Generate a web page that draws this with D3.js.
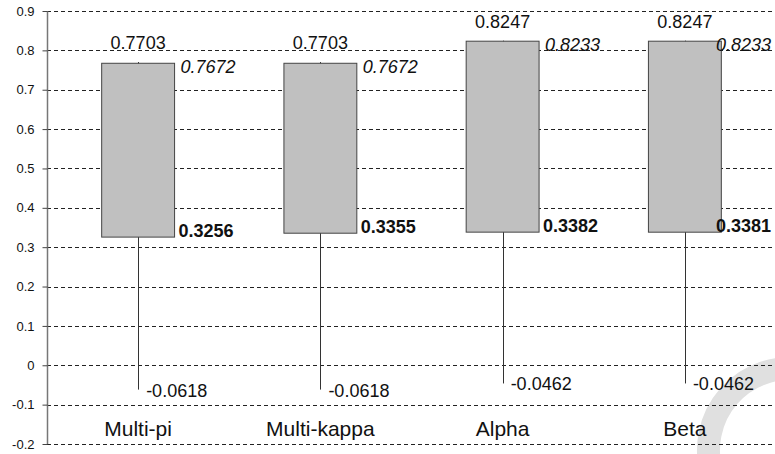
<!DOCTYPE html>
<html>
<head>
<meta charset="utf-8">
<script src="https://cdn.jsdelivr.net/npm/d3@7"></script>
<style>
  html, body { margin: 0; padding: 0; background: #fff; }
  svg { display: block; }
  text { font-family: "Liberation Sans", Arial, Helvetica, sans-serif; fill: #111; }
</style>
</head>
<body>
<script>
const categories = ["Multi-pi", "Multi-kappa", "Alpha", "Beta"];
const maxVals = [0.7703, 0.7703, 0.8247, 0.8247];
const q3Vals  = [0.7672, 0.7672, 0.8233, 0.8233];
const q1Vals  = [0.3256, 0.3355, 0.3382, 0.3381];
const minVals = [-0.0618, -0.0618, -0.0462, -0.0462];
const yTicks  = [-0.2, -0.1, 0, 0.1, 0.2, 0.3, 0.4, 0.5, 0.6, 0.7, 0.8, 0.9];

const W = 775, H = 454;
const svg = d3.select("body").append("svg").attr("width", W).attr("height", H);

const y = d3.scaleLinear().domain([-0.2, 0.9]).range([444, 11]);
const x = d3.scaleBand().domain(categories).range([47, 776]).padding(0);
const boxW = x.bandwidth() * 0.4;
const cx = c => x(c) + x.bandwidth() / 2;
const hy = s => s.replace(/\u2212/g, "-");
const f4 = d => hy(d3.format(".4f")(d));

// faint watermark ring (bottom right)
svg.append("path")
  .attr("transform", "translate(790,450)")
  .attr("d", d3.arc().innerRadius(70).outerRadius(93).startAngle(0.2).endAngle(-1.9)())
  .attr("fill", "#e0e0e0");

// gridlines
svg.append("g").selectAll("line").data(yTicks).join("line")
  .attr("x1", 47).attr("x2", W)
  .attr("y1", d => Math.round(y(d)) + 0.5).attr("y2", d => Math.round(y(d)) + 0.5)
  .attr("stroke", "#222").attr("stroke-width", 1).attr("stroke-dasharray", "4,3");

// y axis
const fmt = d => d === 0 ? "0" : hy(d3.format(".1f")(d));
const ax = svg.append("g").attr("transform", "translate(47.5,0)")
  .call(d3.axisLeft(y).tickValues(yTicks).tickFormat(fmt).tickSize(5).tickPadding(8));
ax.select(".domain").attr("stroke", "#777").attr("stroke-width", 1.5).attr("d", `M0,${y(0.9)}V${y(-0.2)}`);
ax.selectAll(".tick line").attr("stroke", "#444");
ax.selectAll(".tick text").attr("font-size", 13).attr("fill", "#111")
  .attr("font-family", "'Liberation Sans', Arial, sans-serif");

const data = categories.map((c, i) => ({ c, max: maxVals[i], q3: q3Vals[i], q1: q1Vals[i], min: minVals[i] }));
const g = svg.append("g");

// whiskers
g.selectAll("line.whisker").data(data).join("line").attr("class", "whisker")
  .attr("x1", d => Math.round(cx(d.c)) + 0.5).attr("x2", d => Math.round(cx(d.c)) + 0.5)
  .attr("y1", d => y(d.max)).attr("y2", d => y(d.min))
  .attr("stroke", "#333").attr("stroke-width", 1);

// boxes
g.selectAll("rect").data(data).join("rect")
  .attr("x", d => cx(d.c) - boxW / 2).attr("width", boxW)
  .attr("y", d => y(d.q3)).attr("height", d => y(d.q1) - y(d.q3))
  .attr("fill", "#c0c0c0").attr("stroke", "#444").attr("stroke-width", 1);

const RIGHT = 771;
function clampRight(sel) {
  sel.each(function () {
    const t = d3.select(this);
    const w = this.getComputedTextLength();
    const x0 = +t.attr("x");
    if (x0 + w > RIGHT) t.attr("x", RIGHT - w);
  });
}

// max labels
g.selectAll("text.max").data(data).join("text").attr("class", "max")
  .attr("x", d => cx(d.c)).attr("y", d => y(d.max) - 13)
  .attr("text-anchor", "middle").attr("font-size", 18)
  .text(d => f4(d.max));

// q3 labels (italic)
g.selectAll("text.q3").data(data).join("text").attr("class", "q3")
  .attr("x", d => cx(d.c) + boxW / 2 + 6).attr("y", d => y(d.q3) + 10)
  .attr("font-size", 18).attr("font-style", "italic")
  .text(d => f4(d.q3))
  .call(clampRight);

// q1 labels (bold)
g.selectAll("text.q1").data(data).join("text").attr("class", "q1")
  .attr("x", d => cx(d.c) + boxW / 2 + 4).attr("y", d => y(d.q1))
  .attr("font-size", 18).attr("font-weight", "bold")
  .text(d => f4(d.q1))
  .call(clampRight);

// min labels
g.selectAll("text.min").data(data).join("text").attr("class", "min")
  .attr("x", d => cx(d.c) + 8).attr("y", d => y(d.min) + 7)
  .attr("font-size", 18)
  .text(d => f4(d.min))
  .call(clampRight);

// category labels
g.selectAll("text.cat").data(data).join("text").attr("class", "cat")
  .attr("x", d => cx(d.c)).attr("y", 436)
  .attr("text-anchor", "middle").attr("font-size", 21)
  .text(d => d.c);
</script>
</body>
</html>
